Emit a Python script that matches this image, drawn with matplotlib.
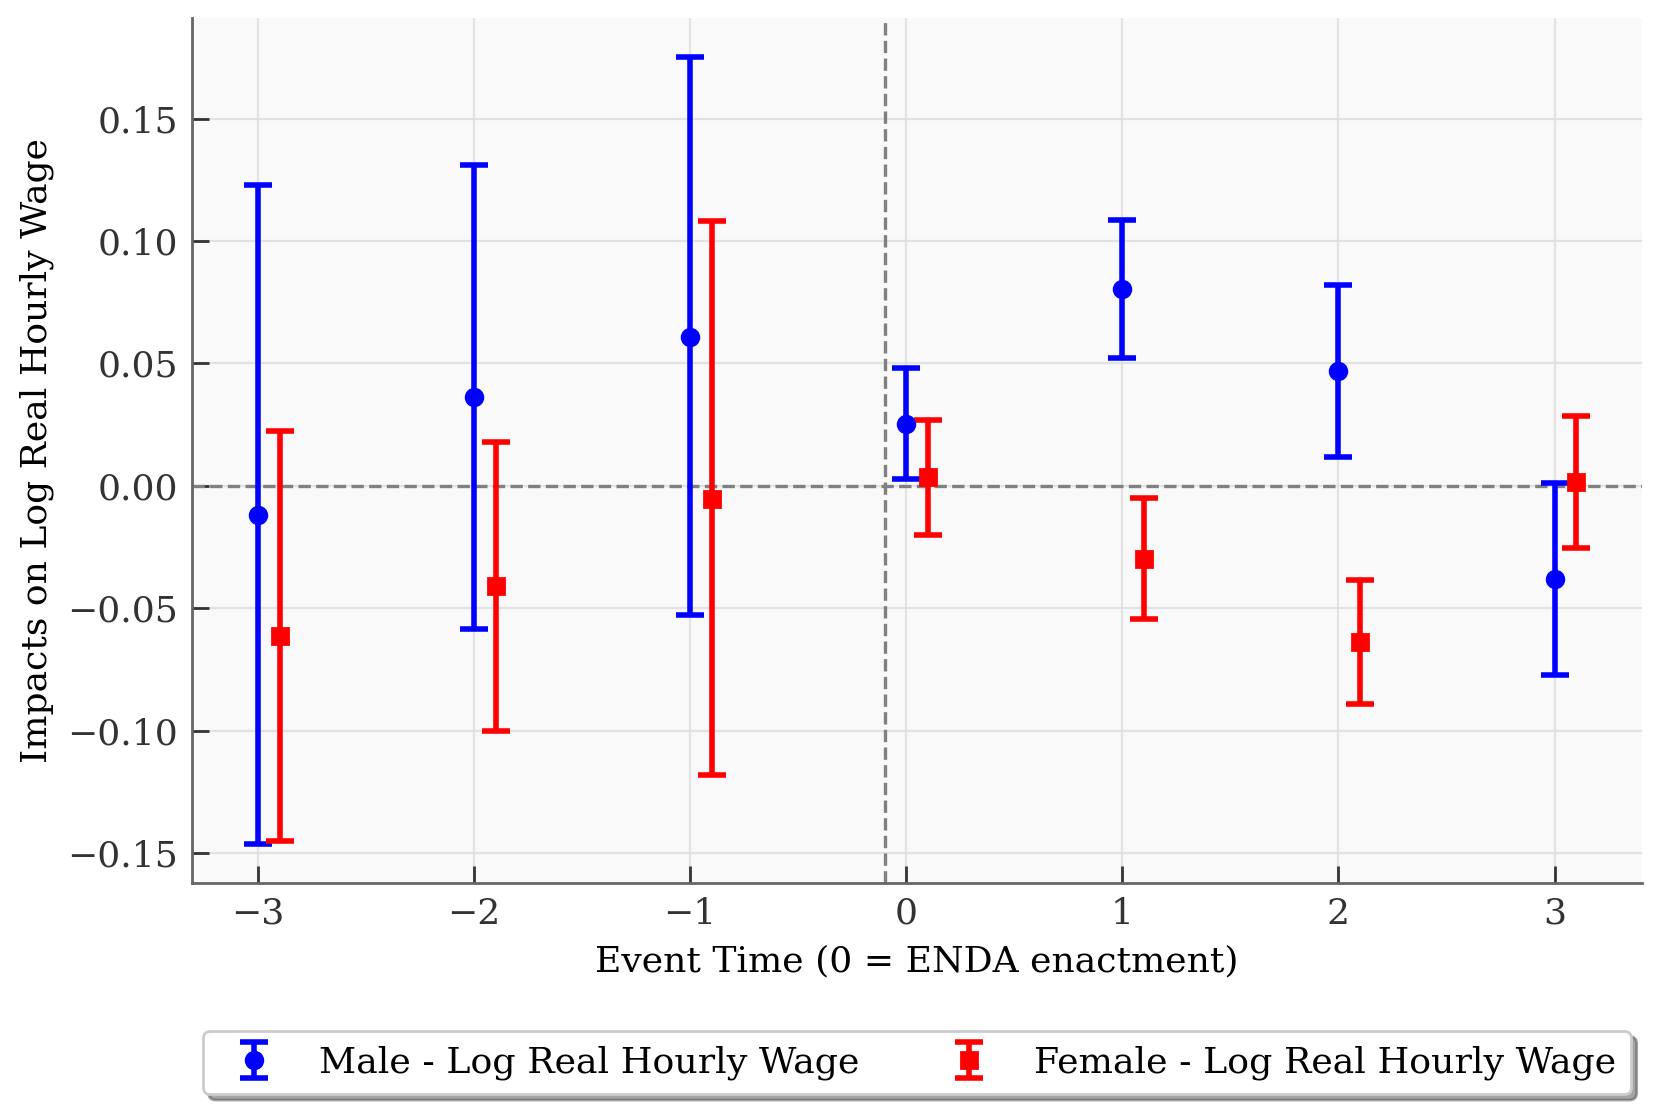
import matplotlib
matplotlib.use("Agg")
import matplotlib.pyplot as plt
import numpy as np

event_time = [-3, -2, -1, 0, 1, 2, 3]
offset = 0.1

male_est = [-0.0117, 0.0363, 0.0609, 0.0255, 0.0804, 0.0471, -0.0380]
male_hi = [0.123, 0.131, 0.175, 0.048, 0.1085, 0.0821, 0.0013]
male_lo = [-0.146, -0.0583, -0.0527, 0.003, 0.0523, 0.0117, -0.077]

female_est = [-0.0614, -0.0410, -0.0052, 0.0035, -0.0298, -0.0635, 0.0017]
female_hi = [0.0225, 0.018, 0.108, 0.0268, -0.0048, -0.0385, 0.0285]
female_lo = [-0.145, -0.100, -0.118, -0.020, -0.0545, -0.089, -0.0255]

FS = 13
plt.rcParams['font.family'] = ['DejaVu Serif']
fig = plt.figure(figsize=(8.305, 5.575), dpi=200)
ax = fig.add_axes([0.1156, 0.2081, 0.873, 0.7758])
ax.set_facecolor('#f9f9f9')

x = np.array(event_time, dtype=float)
me = np.array(male_est); fe = np.array(female_est)
m_err = [me - np.array(male_lo), np.array(male_hi) - me]
f_err = [fe - np.array(female_lo), np.array(female_hi) - fe]

ax.errorbar(x, me, yerr=m_err, fmt='o', color='blue', ecolor='blue',
            elinewidth=2, capsize=5, capthick=2, markersize=6,
            label='Male - Log Real Hourly Wage', zorder=3)
ax.errorbar(x + offset, fe, yerr=f_err, fmt='s', color='red', ecolor='red',
            elinewidth=2, capsize=5, capthick=2, markersize=6,
            label='Female - Log Real Hourly Wage', zorder=3)

ax.axhline(0, color='gray', linestyle='--', linewidth=1.2, zorder=2)
ax.axvline(-0.1, color='gray', linestyle='--', linewidth=1.2, zorder=2)

ax.grid(True, color='#dddddd', linewidth=0.8, alpha=0.8)
ax.set_axisbelow(True)
for s in ['top', 'right']:
    ax.spines[s].set_visible(False)
for s in ['left', 'bottom']:
    ax.spines[s].set_color('#666666')
    ax.spines[s].set_linewidth(1.0)

ax.set_xticks(event_time)
ax.set_yticks([-0.15, -0.10, -0.05, 0.00, 0.05, 0.10, 0.15])
ax.tick_params(direction='in', length=6, width=1, colors='#333333', labelsize=FS, pad=5)
for t in ax.get_xticklabels() + ax.get_yticklabels():
    t.set_color('#333333')

ax.set_xlabel('Event Time (0 = ENDA enactment)', fontsize=FS, labelpad=5)
ax.set_ylabel('Impacts on Log Real Hourly Wage', fontsize=FS, labelpad=4.8)

ax.legend(loc='upper center', bbox_to_anchor=(0.5, -0.171), ncol=2,
          fontsize=13.1, shadow=True, fancybox=True, frameon=True,
          borderaxespad=0)

fig.savefig('out.png', dpi=200)
